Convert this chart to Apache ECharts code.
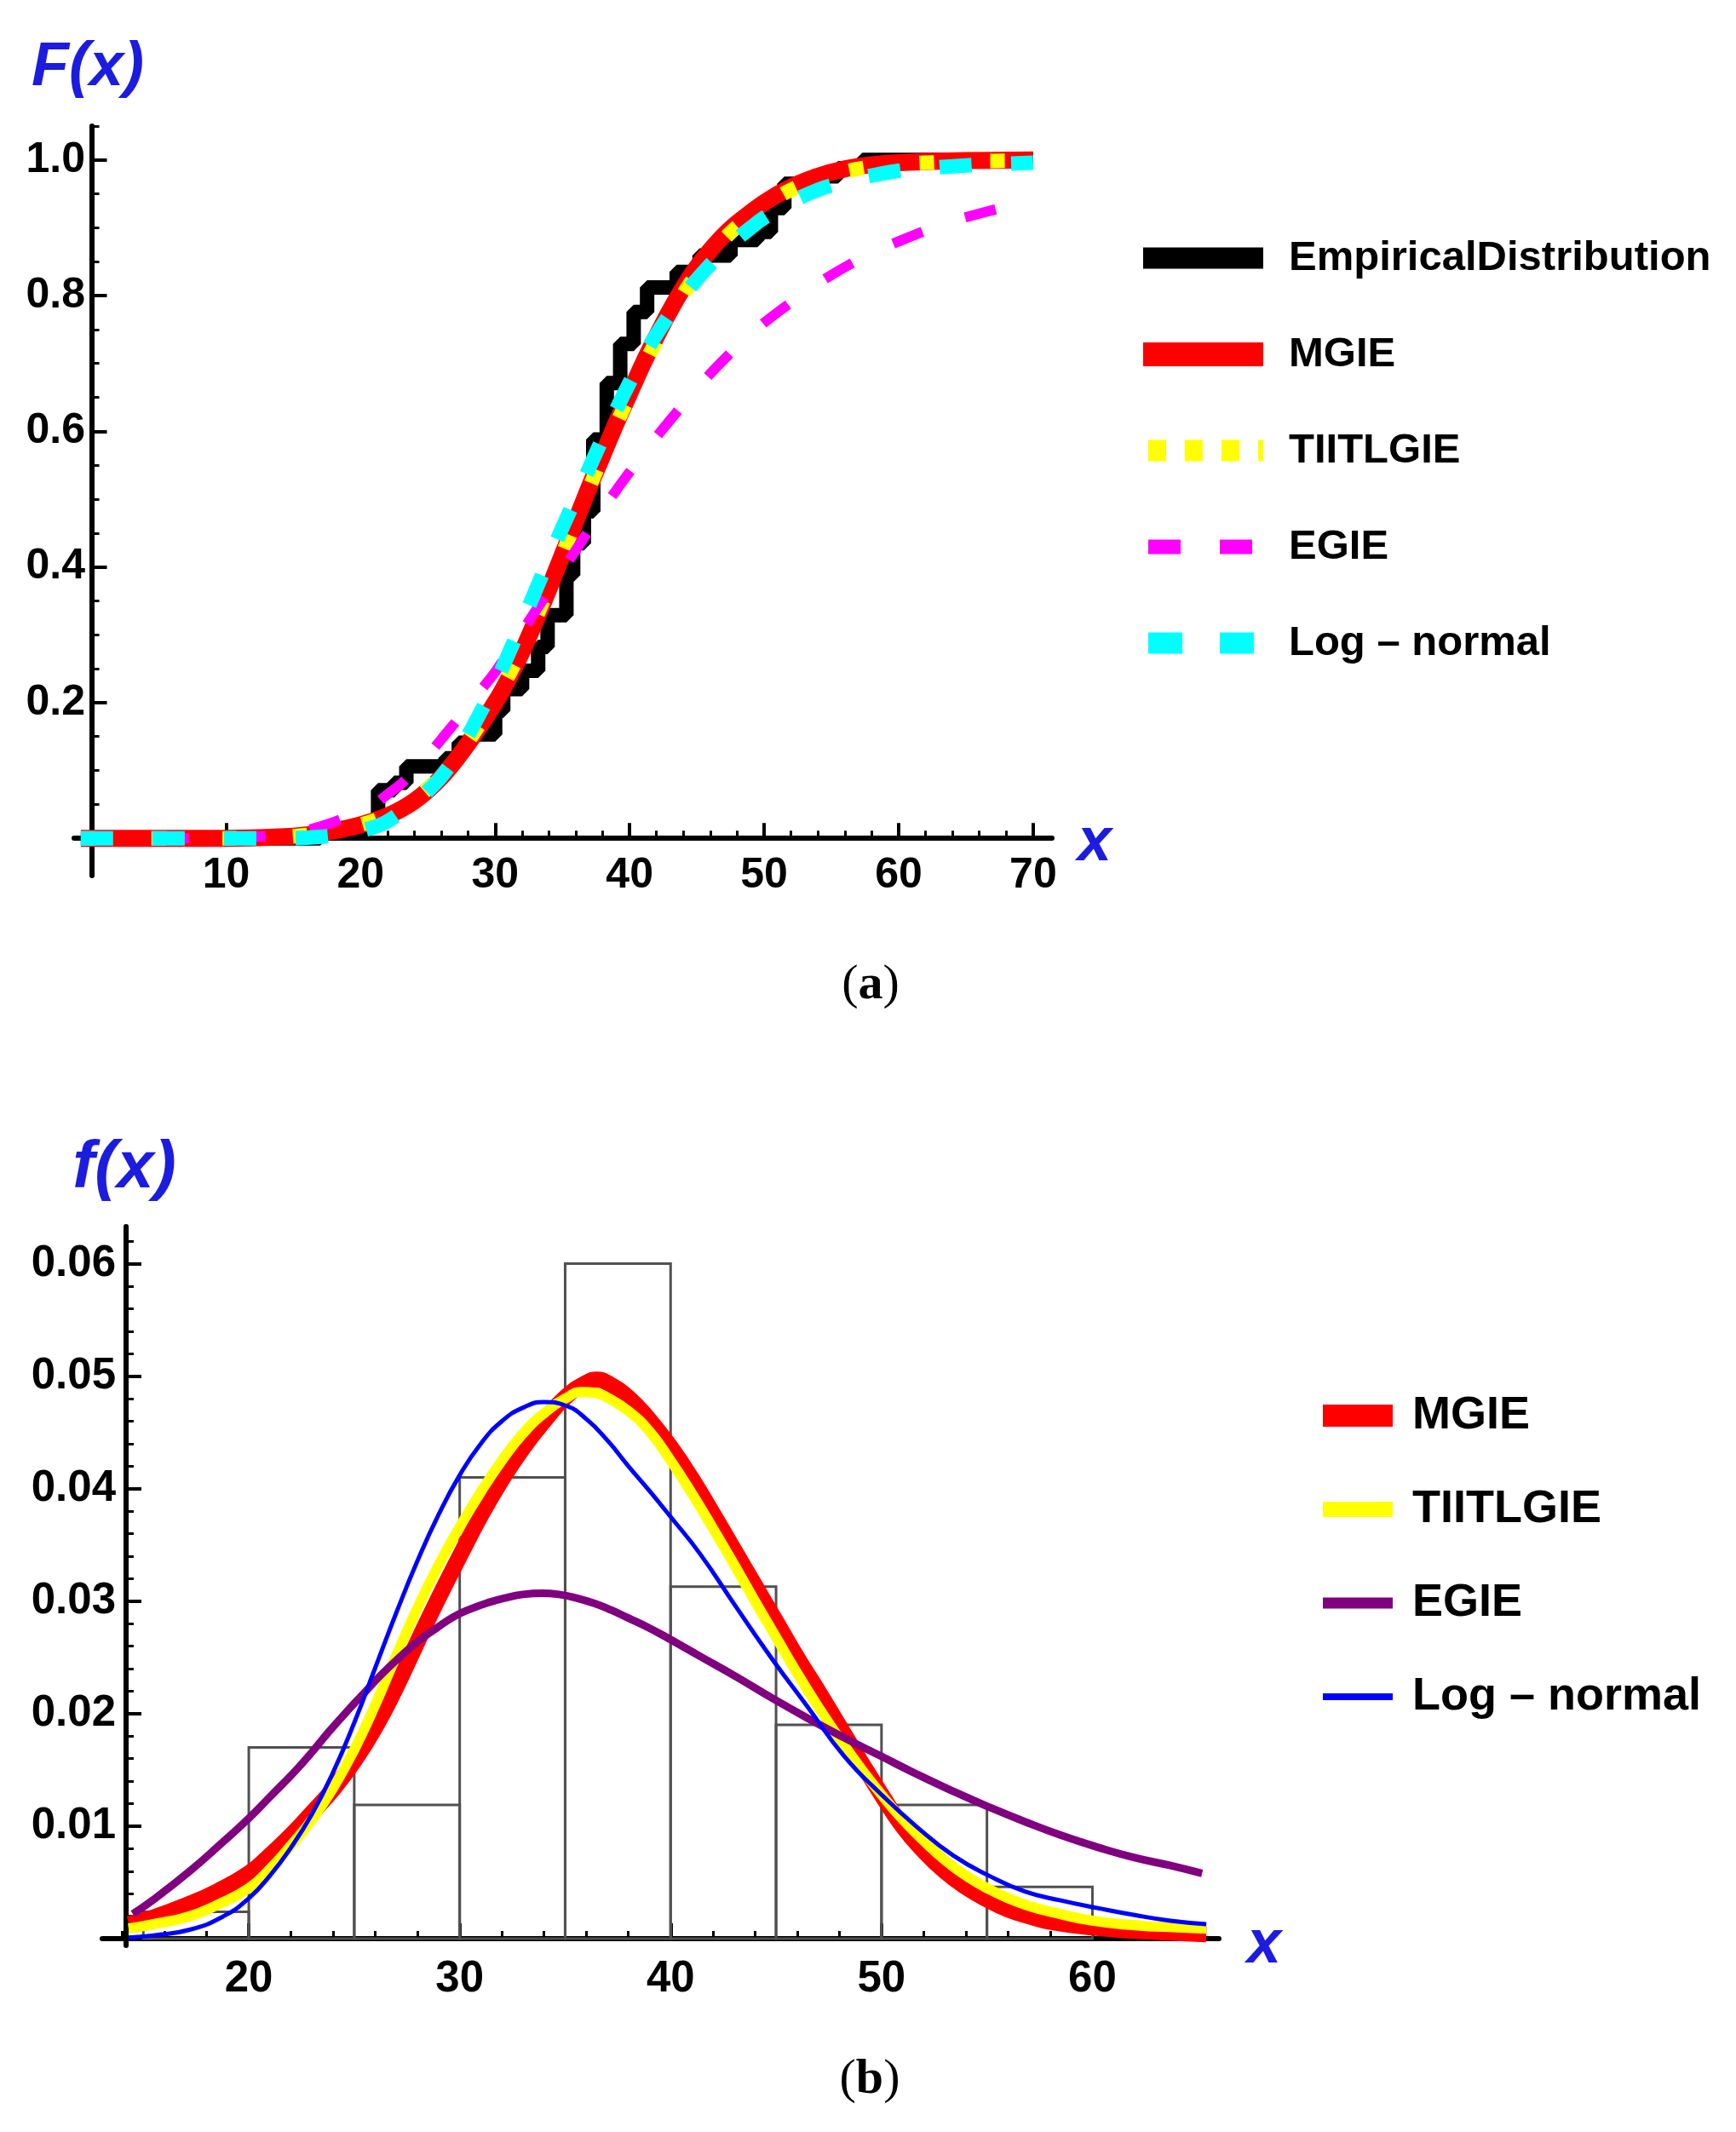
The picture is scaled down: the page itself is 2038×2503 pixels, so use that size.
<!DOCTYPE html>
<html>
<head>
<meta charset="utf-8">
<title>F(x) and f(x)</title>
<script src="https://cdn.jsdelivr.net/npm/echarts@6/dist/echarts.min.js"></script>
<style>
  html, body { margin: 0; padding: 0; background: #fff; }
  #chart { width: 2038px; height: 2503px; }
</style>
</head>
<body>
<div id="chart"></div>
<script>
// ---- panel (a): cumulative distribution functions ----
const ecdfX = [-0.8, 17, 20.5, 21.3, 22.5, 23.4, 26.3, 27.3, 28.2, 30, 30.6, 32, 33.2, 33.9, 35.3, 35.8, 36.6, 37.3,
  38.3, 39.3, 40.3, 41.3, 43.5, 45.2, 47.5, 49.5, 50.5, 51.5, 53.6, 55.5, 57.3, 70]
const ecdfY = [0, 0.012, 0.024, 0.071, 0.082, 0.106, 0.118, 0.141, 0.153, 0.188, 0.22, 0.247, 0.282, 0.329, 0.388,
  0.435, 0.482, 0.588, 0.671, 0.729, 0.776, 0.812, 0.835, 0.859, 0.882, 0.894, 0.929, 0.965, 0.976, 0.988, 1.0, 1.0]

const mgieCdf = [[-0.8, 0], [10, 0], [14, 0.002], [16, 0.005], [18, 0.011], [20, 0.02], [22, 0.033], [24, 0.055],
  [26, 0.09], [28, 0.14], [30, 0.2], [31, 0.235], [32, 0.275], [33, 0.32], [34, 0.368], [35, 0.418], [36, 0.468],
  [37, 0.518], [38, 0.565], [39, 0.612], [40, 0.656], [41, 0.7], [42, 0.74], [43, 0.778], [44, 0.812], [45, 0.842],
  [46, 0.867], [47, 0.889], [48, 0.907], [50, 0.937], [52, 0.96], [54, 0.976], [56, 0.987], [58, 0.993],
  [60, 0.996], [65, 0.999], [70, 1.0]]
const tiitlgieCdf = [[-0.8, 0], [10, 0], [14, 0.002], [16, 0.005], [18, 0.011], [20, 0.02], [22, 0.034], [24, 0.057],
  [26, 0.093], [28, 0.143], [30, 0.205], [31, 0.24], [32, 0.279], [33, 0.323], [34, 0.37], [35, 0.419], [36, 0.468],
  [37, 0.517], [38, 0.564], [39, 0.61], [40, 0.653], [41, 0.695], [42, 0.734], [43, 0.77], [44, 0.803], [45, 0.833],
  [46, 0.86], [47, 0.883], [48, 0.902], [50, 0.933], [52, 0.956], [54, 0.972], [56, 0.983], [58, 0.99],
  [60, 0.994], [65, 0.998], [70, 0.999]]
const egieCdf = [[-0.8, 0], [5, 0], [10, 0.0005], [12, 0.002], [14, 0.005], [16, 0.012], [18, 0.024], [20, 0.04],
  [21.1, 0.051], [22, 0.065], [23, 0.08], [24, 0.1], [25, 0.122], [26, 0.146], [27, 0.17], [28, 0.195], [29, 0.22],
  [30, 0.245], [31, 0.275], [32, 0.305], [33, 0.335], [34, 0.365], [35, 0.395], [36, 0.425], [37, 0.455],
  [38, 0.485], [39, 0.513], [40, 0.54], [42, 0.592], [44, 0.64], [46, 0.685], [48, 0.725], [50, 0.76], [52, 0.79],
  [54, 0.818], [56, 0.842], [58, 0.863], [60, 0.88], [62, 0.896], [64, 0.91], [66, 0.921], [68, 0.931], [70, 0.94]]
const logNormalCdf = [[-0.8, 0], [10, 0], [14, 0], [16, 0.001], [18, 0.004], [20, 0.011], [21.7, 0.022], [23, 0.038],
  [24, 0.052], [25, 0.07], [26, 0.091], [27, 0.118], [28, 0.152], [29, 0.189], [30, 0.228], [31, 0.272], [32, 0.318],
  [33, 0.365], [34, 0.412], [35, 0.458], [36, 0.502], [37, 0.546], [38, 0.59], [39, 0.632], [40, 0.672], [41, 0.71],
  [42, 0.743], [43, 0.773], [44, 0.8], [45, 0.824], [46, 0.846], [47, 0.866], [48, 0.884], [49, 0.9], [50, 0.915],
  [52, 0.938], [54, 0.956], [56, 0.968], [58, 0.977], [60, 0.984], [65, 0.992], [70, 0.996]]

// ---- panel (b): histogram and fitted densities ----
const binStarts = [15, 20, 25, 30, 35, 40, 45, 50, 55]
const binEnds = [20, 25, 30, 35, 40, 45, 50, 55, 60]
const binHeights = [0.0024, 0.017, 0.0119, 0.041, 0.06, 0.0313, 0.019, 0.0119, 0.0046]

const mgiePdf = [[14.3, 0.0013], [15.5, 0.0019], [17.2, 0.0031], [18.5, 0.0042], [20, 0.0058], [21, 0.0074],
  [22, 0.0092], [23, 0.0112], [24, 0.0133], [25, 0.0158], [26, 0.0188], [27, 0.0224], [28, 0.0264], [29, 0.0303],
  [30, 0.034], [31, 0.0376], [32, 0.0408], [33, 0.0436], [34, 0.046], [35, 0.0481], [36, 0.0494], [36.5, 0.0497],
  [37, 0.0494], [38, 0.0481], [39, 0.0461], [40, 0.0437], [41, 0.0409], [42, 0.0378], [43, 0.0346], [44, 0.0314],
  [45, 0.0282], [46, 0.025], [47, 0.022], [48, 0.0189], [49, 0.0158], [50, 0.0128], [51, 0.01], [52, 0.0078],
  [53, 0.006], [54, 0.0046], [55, 0.0035], [56, 0.0026], [57, 0.002], [58, 0.0015], [60, 0.001], [62, 0.0007],
  [65.4, 0.0004]]
const tiitlgiePdf = [[14.3, 0.0009], [15.5, 0.0013], [17.2, 0.002], [18.5, 0.003], [20, 0.0045], [21, 0.0062],
  [22, 0.0083], [23, 0.0106], [24, 0.0134], [25, 0.0168], [26, 0.0208], [27, 0.0252], [28, 0.0294], [29, 0.0332],
  [30, 0.0366], [31, 0.0397], [32, 0.0425], [33, 0.0449], [34, 0.0467], [35, 0.048], [35.8, 0.0486], [36.5, 0.0485],
  [37, 0.0481], [38, 0.0469], [39, 0.0451], [40, 0.0425], [41, 0.0396], [42, 0.0365], [43, 0.0333], [44, 0.03],
  [45, 0.0268], [46, 0.0236], [47, 0.0206], [48, 0.0178], [49, 0.0152], [50, 0.0128], [51, 0.0106], [52, 0.0087],
  [53, 0.007], [54, 0.0056], [55, 0.0045], [56, 0.0036], [57, 0.0029], [58, 0.0024], [60, 0.0016], [62, 0.0012],
  [64, 0.001], [65.4, 0.0009]]
const egiePdf = [[14.5, 0.0022], [15.5, 0.0035], [17.2, 0.006], [18.6, 0.0083], [20, 0.0107], [21, 0.0126],
  [22.2, 0.0149], [23, 0.0166], [23.8, 0.0184], [24.7, 0.0203], [25.5, 0.0219], [26.3, 0.0235], [27.2, 0.0251],
  [28, 0.0264], [28.9, 0.0276], [29.7, 0.0286], [30.5, 0.0293], [31.4, 0.0299], [32.2, 0.0303], [33, 0.0306],
  [33.9, 0.0307], [34.7, 0.0306], [35.5, 0.0303], [36.4, 0.0298], [37.2, 0.0292], [38, 0.0285], [38.9, 0.0277],
  [39.7, 0.0269], [41.4, 0.0251], [43.1, 0.0233], [44.8, 0.0214], [46.5, 0.0196], [48.2, 0.0179], [50, 0.0162],
  [51.7, 0.0146], [53.4, 0.0131], [55.1, 0.0117], [56.8, 0.0104], [58.5, 0.0092], [60.3, 0.0081], [62, 0.0072],
  [63.7, 0.0065], [65.2, 0.0058]]
const logNormalPdf = [[14.3, 0.0001], [15.5, 0.0003], [17.2, 0.0008], [18.8, 0.002], [20, 0.0036], [21, 0.0056],
  [22, 0.0081], [23, 0.0111], [24, 0.0148], [25, 0.0192], [26, 0.0241], [27, 0.029], [28, 0.0336], [29, 0.0377],
  [30, 0.0412], [31, 0.044], [32, 0.046], [33, 0.0472], [34, 0.0477], [35, 0.0474], [36, 0.0462], [37, 0.0443],
  [38, 0.042], [39, 0.0398], [40, 0.0375], [41.4, 0.0342], [43.1, 0.0295], [44.8, 0.0249], [46.5, 0.0206],
  [48.2, 0.0163], [50, 0.0128], [51.7, 0.0099], [53.4, 0.0074], [55.1, 0.0056], [56.8, 0.0042], [58.5, 0.0034],
  [60.3, 0.0027], [62, 0.0021], [63.7, 0.0016], [65.4, 0.0013]]

// ---- tick labels ----
const cdfXTicks = [10, 20, 30, 40, 50, 60, 70]
const cdfYTicks = [0.2, 0.4, 0.6, 0.8, 1.0]
const pdfXTicks = [20, 30, 40, 50, 60]
const pdfYTicks = [0.01, 0.02, 0.03, 0.04, 0.05, 0.06]

const sans = "'Liberation Sans', Arial, sans-serif"
const blue = "#1c1ce0"

// minor tick positions between the labelled ones
function minorTicks(from, to, step, major) {
  const out = []
  for (let k = Math.round(from / step); k * step <= to + 1e-9; k++) {
    const v = Math.round(k * step * 1e6) / 1e6
    const r = v / major
    if (Math.abs(r - Math.round(r)) > 1e-6) out.push(v)
  }
  return out
}

function axisPair(kind, grid, min, max, majors, minors, opts) {
  const base = {
    type: "value",
    gridIndex: grid,
    min: min,
    max: max,
    position: kind === "x" ? "bottom" : "left",
    offset: opts.offset || 0,
    splitLine: { show: false }
  }
  const main = Object.assign({}, base, {
    axisLine: { show: true, onZero: opts.onZero, lineStyle: { color: "#000", width: 6 } },
    axisTick: { show: true, inside: true, length: 9, customValues: minors, lineStyle: { color: "#000", width: 3 } },
    axisLabel: {
      show: true,
      customValues: majors,
      margin: opts.margin,
      color: "#000",
      fontFamily: sans,
      fontWeight: "bold",
      fontSize: opts.fontSize,
      formatter: opts.formatter
    }
  })
  const major = Object.assign({}, base, {
    axisLine: { show: false, onZero: opts.onZero },
    axisTick: { show: true, inside: true, length: 18, customValues: majors, lineStyle: { color: "#000", width: 4 } },
    axisLabel: { show: false }
  })
  return [main, major]
}

const chart = echarts.init(document.getElementById("chart"), null, { renderer: "canvas" })

const xAxes = [
  ...axisPair("x", 0, -1.3, 71.4, cdfXTicks, minorTicks(2, 70, 2, 10), { onZero: true, margin: -25, fontSize: 50, formatter: (v) => String(v) }),
  ...axisPair("x", 1, 13.05, 66, pdfXTicks, minorTicks(14, 64, 2, 10), { onZero: true, margin: 14, fontSize: 51, formatter: (v) => String(v) })
]
const yAxes = [
  ...axisPair("y", 0, -0.055, 1.05, cdfYTicks, minorTicks(0.05, 1.05, 0.05, 0.2), { onZero: true, margin: -13, fontSize: 50, formatter: (v) => v.toFixed(1) }),
  ...axisPair("y", 1, -0.0006, 0.0633, pdfYTicks, minorTicks(0.002, 0.062, 0.002, 0.01), { onZero: false, offset: -28, margin: 12, fontSize: 51, formatter: (v) => v.toFixed(2) })
]

function curve(name, data, xi, color, width, type, smooth) {
  return {
    name: name,
    type: "line",
    xAxisIndex: xi,
    yAxisIndex: xi,
    data: data,
    color: color,
    showSymbol: false,
    symbol: "none",
    smooth: smooth,
    lineStyle: { color: color, width: width, type: type || "solid", cap: "butt", join: "round" }
  }
}

const series = [
  {
    name: "EmpiricalDistribution",
    type: "line",
    xAxisIndex: 0,
    yAxisIndex: 0,
    data: ecdfX.map((x, i) => [x, ecdfY[i]]),
    step: "end",
    color: "#000",
    showSymbol: false,
    symbol: "none",
    lineStyle: { color: "#000", width: 17 }
  },
  curve("MGIE", mgieCdf, 0, "#ff0000", 20, "solid", 0.3),
  curve("TIITLGIE", tiitlgieCdf, 0, "#ffff00", 17, [17, 66], 0.3),
  curve("EGIE", egieCdf, 0, "#ff00ff", 12, [37, 53], 0.3),
  curve("Log-normal", logNormalCdf, 0, "#00ffff", 17, [38, 46], 0.3),
  {
    name: "Histogram",
    type: "custom",
    xAxisIndex: 2,
    yAxisIndex: 2,
    data: binStarts.map((s, i) => [s, binEnds[i], binHeights[i]]),
    encode: { x: [0, 1], y: 2 },
    renderItem: function (params, api) {
      const topLeft = api.coord([api.value(0), api.value(2)])
      const bottomRight = api.coord([api.value(1), 0])
      return {
        type: "rect",
        shape: {
          x: topLeft[0],
          y: topLeft[1],
          width: bottomRight[0] - topLeft[0],
          height: bottomRight[1] - topLeft[1]
        },
        style: { fill: "none", stroke: "#505050", lineWidth: 3 }
      }
    }
  },
  curve("MGIE", mgiePdf, 2, "#ff0000", 19, "solid", 0.5),
  curve("TIITLGIE", tiitlgiePdf, 2, "#ffff00", 12, "solid", 0.5),
  curve("EGIE", egiePdf, 2, "#800080", 9, "solid", 0.5),
  curve("Log-normal", logNormalPdf, 2, "#0000ff", 5, "solid", 0.5)
]

const legendName = (name) => (name === "Log-normal" ? "Log \u2013 normal" : name)

const options = {
  animation: false,
  backgroundColor: "#fff",
  grid: [
    { left: 87, top: 148, width: 1148, height: 880, outerBoundsMode: "none" },
    { left: 120, top: 1440, width: 1311, height: 844, outerBoundsMode: "none" }
  ],
  xAxis: xAxes,
  yAxis: yAxes,
  legend: [
    {
      orient: "vertical",
      left: 1328,
      top: 274,
      padding: 0,
      itemWidth: 141,
      itemHeight: 28,
      itemGap: 55,
      selectedMode: false,
      itemStyle: { opacity: 0 },
      formatter: legendName,
      textStyle: { color: "#000", fontFamily: sans, fontWeight: "bold", fontSize: 49, lineHeight: 58, padding: [0, 0, 0, 25] },
      data: [
        { name: "EmpiricalDistribution", lineStyle: { color: "#000", width: 25, type: "solid" } },
        { name: "MGIE", lineStyle: { color: "#ff0000", width: 28, type: "solid" } },
        { name: "TIITLGIE", lineStyle: { color: "#ffff00", width: 25, type: [21, 22], dashOffset: -6 } },
        { name: "EGIE", lineStyle: { color: "#ff00ff", width: 17, type: [38, 46], dashOffset: -6 } },
        { name: "Log-normal", lineStyle: { color: "#00ffff", width: 25, type: [40, 44], dashOffset: -6 } }
      ]
    },
    {
      orient: "vertical",
      left: 1540,
      top: 1634,
      padding: 0,
      itemWidth: 82,
      itemHeight: 28,
      itemGap: 54,
      selectedMode: false,
      itemStyle: { opacity: 0 },
      formatter: legendName,
      textStyle: { color: "#000", fontFamily: sans, fontWeight: "bold", fontSize: 54, lineHeight: 56, padding: [0, 0, 0, 18] },
      data: [
        { name: "MGIE", lineStyle: { color: "#ff0000", width: 26, type: "solid" } },
        { name: "TIITLGIE", lineStyle: { color: "#ffff00", width: 18, type: "solid" } },
        { name: "EGIE", lineStyle: { color: "#800080", width: 13, type: "solid" } },
        { name: "Log-normal", lineStyle: { color: "#0000ff", width: 8, type: "solid" } }
      ]
    }
  ],
  graphic: [
    { type: "text", x: 103, y: 80, style: { text: "F(x)", fill: blue, fontFamily: sans, fontStyle: "italic", fontWeight: "bold", fontSize: 72, align: "center", verticalAlign: "middle" } },
    { type: "text", x: 1285, y: 990, style: { text: "x", fill: blue, fontFamily: sans, fontStyle: "italic", fontWeight: "bold", fontSize: 72, align: "center", verticalAlign: "middle" } },
    { type: "text", x: 146, y: 1372, style: { text: "f(x)", fill: blue, fontFamily: sans, fontStyle: "italic", fontWeight: "bold", fontSize: 78, align: "center", verticalAlign: "middle" } },
    { type: "text", x: 1484, y: 2284, style: { text: "x", fill: blue, fontFamily: sans, fontStyle: "italic", fontWeight: "bold", fontSize: 72, align: "center", verticalAlign: "middle" } },
    {
      type: "text", x: 1022, y: 1157,
      style: {
        text: "{p|(}{b|a}{p|)}", align: "center", verticalAlign: "middle", fill: "#000",
        rich: {
          p: { fontFamily: "'Liberation Serif', serif", fontSize: 58, fill: "#000" },
          b: { fontFamily: "'Liberation Serif', serif", fontSize: 58, fontWeight: "bold", fill: "#000" }
        }
      }
    },
    {
      type: "text", x: 1021, y: 2442,
      style: {
        text: "{p|(}{b|b}{p|)}", align: "center", verticalAlign: "middle", fill: "#000",
        rich: {
          p: { fontFamily: "'Liberation Serif', serif", fontSize: 58, fill: "#000" },
          b: { fontFamily: "'Liberation Serif', serif", fontSize: 58, fontWeight: "bold", fill: "#000" }
        }
      }
    }
  ],
  series: series
}

chart.setOption(options)
</script>
</body>
</html>
